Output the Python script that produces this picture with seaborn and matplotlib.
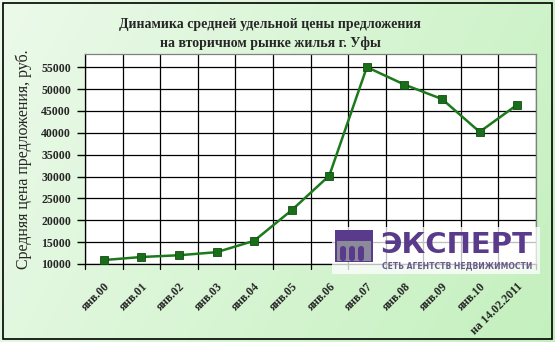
import numpy as np
import matplotlib
matplotlib.use("Agg")
import matplotlib.pyplot as plt
import seaborn as sns
import pandas as pd
from matplotlib.patches import Rectangle, FancyBboxPatch

categories = ["янв.00", "янв.01", "янв.02", "янв.03", "янв.04", "янв.05",
              "янв.06", "янв.07", "янв.08", "янв.09", "янв.10", "на 14.02.2011"]
prices = [10900, 11600, 12000, 12700, 15300, 22300,
          30200, 55000, 51000, 47700, 40200, 46400]
yticks = [10000, 15000, 20000, 25000, 30000, 35000, 40000, 45000, 50000, 55000]

title = "Динамика средней удельной цены предложения\nна вторичном рынке жилья г. Уфы"
ylabel = "Средняя цена предложения, руб."

sns.set_theme(style="white")
plt.rcParams['font.family'] = ['Liberation Serif', 'DejaVu Serif']

W, H = 555, 342
fig = plt.figure(figsize=(W / 100, H / 100), dpi=100)

# gradient background
bg = fig.add_axes([0, 0, 1, 1], zorder=-10)
xx, yy = np.meshgrid(np.linspace(0, 1, 200), np.linspace(0, 1, 120))
t = np.clip(0.75 * xx + 0.25 * yy, 0, 1)
c0 = np.array([236, 250, 234]) / 255
c1 = np.array([196, 240, 190]) / 255
img = c0[None, None, :] * (1 - t[..., None]) + c1[None, None, :] * t[..., None]
bg.imshow(img, aspect='auto', extent=[0, 1, 0, 1], origin='upper')
bg.set_xlim(0, 1); bg.set_ylim(0, 1)
bg.axis('off')
bg.add_patch(Rectangle((3 / W, 3 / H), (W - 6) / W, (H - 6) / H, fill=False,
                       edgecolor='black', lw=1.2))

ax = fig.add_axes([85 / W, 1 - 264 / H, (536 - 85) / W, (264 - 54) / H])
ax.set_facecolor('white')

df = pd.DataFrame({"cat": categories, "price": prices})
df["x"] = np.arange(len(categories))
sns.lineplot(data=df, x="x", y="price", ax=ax, color="#1c7a1c", lw=1.8,
             marker="s", markersize=5.5, markerfacecolor="#1a6e1a",
             markeredgecolor="#0f4f0f", markeredgewidth=0.6, sort=False, zorder=5)

n = len(categories)
ax.set_xlim(-0.5, n - 0.5)
ax.set_ylim(10000, 58000)
ax.set_yticks(yticks)
ax.set_yticklabels([str(v) for v in yticks], fontsize=8.5, fontweight='bold')
ax.set_xticks(np.arange(n))
ax.set_xticklabels(categories, fontsize=8.5, fontweight='bold', rotation=45,
                   ha='right', va='top', rotation_mode='anchor')
ax.tick_params(axis='x', length=0, pad=12)
ax.tick_params(axis='y', length=6, width=1, color='black', direction='out', pad=4)
ax.yaxis.set_ticks_position('left')
for b in np.arange(-0.5, n, 1.0):
    ax.axvline(b, color='black', lw=0.9, zorder=1)
    ax.plot([b, b], [0, -0.025], transform=ax.get_xaxis_transform(),
            color='black', lw=0.9, clip_on=False)
for v in yticks:
    ax.axhline(v, color='black', lw=0.9, zorder=1)
ax.set_xlabel("")
ax.set_ylabel(ylabel, fontsize=11.5, labelpad=7)
for s in ax.spines.values():
    s.set_color('#808080'); s.set_linewidth(0.9)
ax.spines['left'].set_color('black')
ax.spines['bottom'].set_color('black')

fig.text(0.487, 1 - 34 / H, title, ha='center', va='center', fontsize=10,
         fontweight='bold', linespacing=1.45)

# logo
lg = fig.add_axes([0, 0, 1, 1], zorder=20)
lg.set_xlim(0, W); lg.set_ylim(H, 0); lg.axis('off')
lg.add_patch(Rectangle((332, 227), 208, 47, facecolor='white', alpha=0.75, edgecolor='none'))
purple = "#5a3a8a"
lg.add_patch(Rectangle((335, 230), 38, 32, facecolor=purple, edgecolor='none'))
lg.add_patch(Rectangle((337, 241), 34, 20, facecolor='#8a8a9a', edgecolor='none'))
for i, xa in enumerate([340, 349, 358]):
    lg.add_patch(FancyBboxPatch((xa, 246), 6, 15, boxstyle="round,pad=0,rounding_size=3",
                                facecolor=purple, edgecolor='none'))
lg.text(456, 245, "ЭКСПЕРТ", ha='center', va='center', fontsize=21,
        fontweight='bold', color=purple, family=['DejaVu Sans'])
lg.text(457, 266, "СЕТЬ АГЕНТСТВ НЕДВИЖИМОСТИ", ha='center', va='center',
        fontsize=5.5, fontweight='bold', color='#6a5a8a', family=['DejaVu Sans'])

fig.savefig("out.png", dpi=100)
